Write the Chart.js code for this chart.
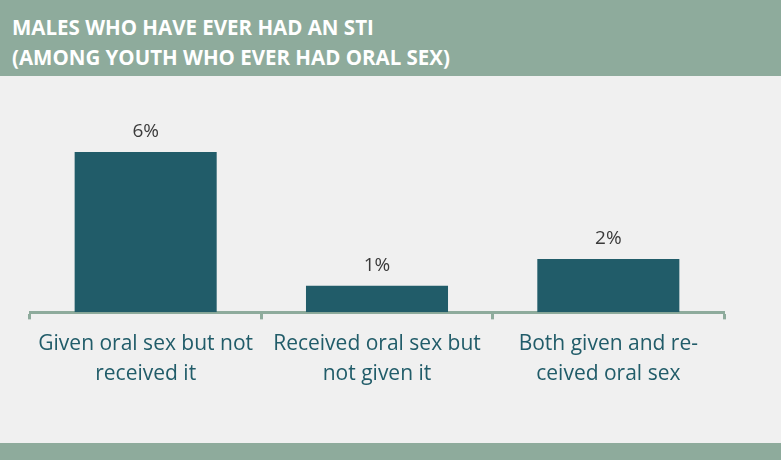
<!DOCTYPE html>
<html lang="en">
<head>
    <meta charset="UTF-8">
    <title>Males who have ever had an STI</title>
    <script src="https://cdn.jsdelivr.net/npm/chart.js"></script>
    <style>
        body { margin: 0; background: #f0f0f0; width: 781px; height: 460px; overflow: hidden; position: relative; font-family: "Open Sans", sans-serif; }
        .header { position: absolute; left: 0; top: 0; width: 781px; height: 76px; background: #8eab9c; }
        .header h1 { margin: 0; padding: 12px 0 0 12px; color: #fff; font-size: 20.5px; font-weight: 700; line-height: 30px; }
        .chart-box { position: absolute; left: 0; top: 76px; width: 781px; height: 367px; }
        .footer { position: absolute; left: 0; top: 443px; width: 781px; height: 17px; background: #8eab9c; }
    </style>
</head>
<body>
    <div class="header">
        <h1>MALES WHO HAVE EVER HAD AN STI<br>(AMONG YOUTH WHO EVER HAD ORAL SEX)</h1>
    </div>
    <div class="chart-box"><canvas id="stiChart" width="781" height="367"></canvas></div>
    <div class="footer"></div>

    <script>
    // categories and percentages
    const categories = [
        ['Given oral sex but not', 'received it'],
        ['Received oral sex but', 'not given it'],
        ['Both given and re-', 'ceived oral sex']
    ];
    const percentValues = [6, 1, 2];

    const teal = '#215c69';
    const sage = '#8eab9c';

    // value labels above each bar
    const barLabels = {
        id: 'barLabels',
        afterDatasetsDraw(chart) {
            const ctx = chart.ctx;
            const meta = chart.getDatasetMeta(0);
            ctx.save();
            ctx.fillStyle = '#3a3a3a';
            ctx.font = '19px "Open Sans", sans-serif';
            ctx.textAlign = 'center';
            ctx.textBaseline = 'bottom';
            meta.data.forEach((bar, i) => {
                ctx.fillText(percentValues[i] + '%', bar.x, bar.y - 11);
            });
            ctx.restore();
        }
    };

    new Chart(document.getElementById('stiChart'), {
        type: 'bar',
        data: {
            labels: categories,
            datasets: [{
                data: percentValues,
                backgroundColor: teal,
                borderWidth: 0,
                categoryPercentage: 0.614,
                barPercentage: 1
            }]
        },
        options: {
            responsive: false,
            animation: false,
            layout: { padding: { left: 30, right: 57, top: 36, bottom: 44 } },
            plugins: {
                legend: { display: false },
                tooltip: { enabled: false }
            },
            scales: {
                x: {
                    offset: true,
                    border: { display: true, color: sage, width: 3 },
                    grid: {
                        offset: true,
                        drawOnChartArea: false,
                        drawTicks: true,
                        tickLength: 7,
                        tickWidth: 3,
                        tickColor: sage
                    },
                    ticks: {
                        color: teal,
                        maxRotation: 0,
                        padding: 10,
                        font: { family: '"Open Sans", sans-serif', size: 21, lineHeight: 1.42 }
                    }
                },
                y: {
                    display: false,
                    min: 0,
                    max: 7.5
                }
            }
        },
        plugins: [barLabels]
    });
    </script>
</body>
</html>
